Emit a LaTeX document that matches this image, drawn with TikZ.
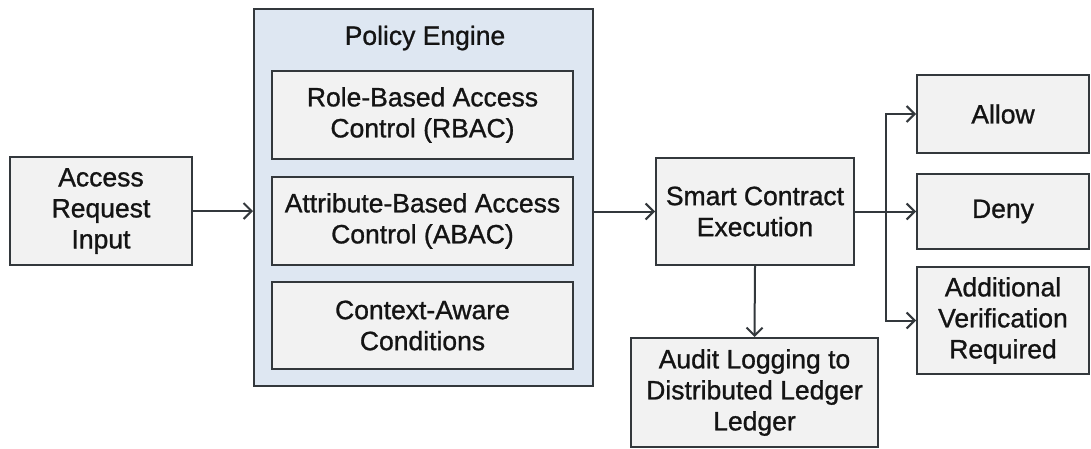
\documentclass[tikz,border=0pt]{standalone}
\usepackage{fontspec}
\newfontfamily\labelfont{Liberation Sans}[UprightFeatures={FakeBold=1.0}]
\usetikzlibrary{arrows.meta}
\definecolor{boxfill}{HTML}{F2F2F2}
\definecolor{boxline}{HTML}{33383C}
\definecolor{groupfill}{HTML}{DEE7F2}
\definecolor{ink}{HTML}{141414}
\begin{document}
\begin{tikzpicture}[x=1pt,y=-1pt,
  font=\labelfont\fontsize{26.5}{31}\selectfont,
  text=ink,
  box/.style={draw=boxline,line width=2pt,fill=boxfill,rectangle,
    align=center,inner sep=0pt},
  group/.style={draw=boxline,line width=2pt,fill=groupfill,rectangle,inner sep=0pt},
  flow/.style={draw=boxline,line width=2pt,
    -{Straight Barb[length=8pt,width=16pt,line width=2pt]}}]
\useasboundingbox (0,0) rectangle (1091,448);
\fill[white] (0,0) rectangle (1091,448);

% input
\node[box,minimum width=182pt,minimum height=108pt] (input) at (101,211) {Access\\Request\\Input};

% policy engine group and its parts
\node[group,minimum width=339pt,minimum height=377pt] (engine) at (423.5,197.5) {};
\node (title) at (425,38) {Policy Engine};
\node[box,minimum width=301pt,minimum height=88pt] (rbac) at (422.5,115) {Role-Based Access\\Control (RBAC)};
\node[box,minimum width=301pt,minimum height=88pt] (abac) at (422.5,221) {Attribute-Based Access\\Control (ABAC)};
\node[box,minimum width=301pt,minimum height=87pt] (ctx) at (422.5,325.5) {Context-Aware\\Conditions};

% execution and logging
\node[box,minimum width=198pt,minimum height=107pt] (smart) at (755,211.5) {Smart Contract\\Execution};
\node[box,minimum width=247pt,minimum height=109pt] (audit) at (754.5,392.5) {Audit Logging to\\Distributed Ledger\\Ledger};

% outcomes
\node[box,minimum width=172pt,minimum height=78pt] (allow) at (1003,114) {Allow};
\node[box,minimum width=172pt,minimum height=75pt] (deny) at (1003,211.5) {Deny};
\node[box,minimum width=172pt,minimum height=107pt] (addv) at (1003,320.5) {Additional\\Verification\\Required};

\coordinate (split) at (886,211.5);

% connectors
\draw[flow] (input.east) -- (input.east -| engine.west);
\draw[flow] (engine.east |- smart.west) -- (smart.west);
\draw[flow] (smart.south) -- (audit.north);
\draw[flow] (smart.east) -- (deny.west);
\draw[flow] (split) |- (allow.west);
\draw[flow] (split) |- (addv.west);
\end{tikzpicture}
\end{document}
